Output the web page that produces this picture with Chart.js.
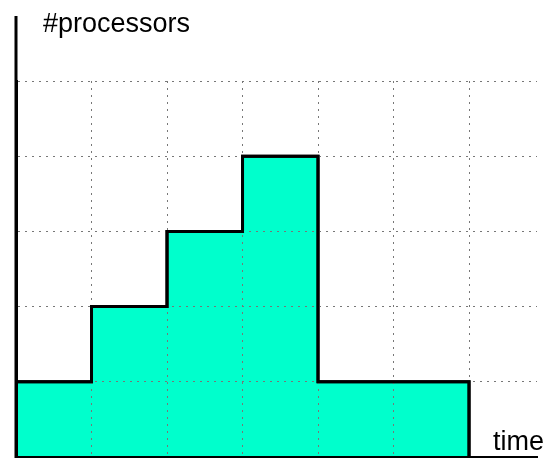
<!DOCTYPE html>
<html>
<head>
<meta charset="utf-8">
<script src="https://cdn.jsdelivr.net/npm/chart.js@4/dist/chart.umd.min.js"></script>
<style>
  html, body { margin: 0; padding: 0; background: #fff; }
  #wrap { width: 547px; height: 459px; position: relative; }
</style>
</head>
<body>
<div id="wrap"><canvas id="procChart"></canvas></div>
<script>
// step profile: processors in use from each time point onwards
const times = [0, 1, 2, 3, 4, 6];
const processors = [1, 2, 3, 4, 1, 0];
const yLabel = '#processors';
const xLabel = 'time';

// step outline back on top of the grid, axis line above the plot, text labels
const labelsPlugin = {
    id: 'labels',
    afterDraw(chart) {
        const ctx = chart.ctx;
        const area = chart.chartArea;
        chart.getDatasetMeta(0).dataset.draw(ctx, area);
        ctx.save();
        ctx.setLineDash([]);
        ctx.strokeStyle = '#000';
        ctx.lineWidth = 3;
        ctx.beginPath();
        ctx.moveTo(area.left, 16);
        ctx.lineTo(area.left, area.bottom + 1);
        ctx.stroke();
        ctx.fillStyle = '#000';
        ctx.font = '27px "Liberation Sans", Arial, sans-serif';
        ctx.textBaseline = 'alphabetic';
        ctx.textAlign = 'left';
        ctx.fillText(yLabel, 43, 32);
        ctx.textAlign = 'right';
        ctx.fillText(xLabel, 544, 450);
        ctx.restore();
    }
};

// keep only whole-number grid lines
const wholeTicks = scale => {
    scale.ticks = scale.ticks.filter(t => Number.isInteger(t.value));
};

new Chart(document.getElementById('procChart'), {
    type: 'line',
    data: {
        datasets: [{
            data: times.map((t, i) => ({ x: t, y: processors[i] })),
            stepped: true,
            borderColor: '#000',
            borderWidth: 3,
            backgroundColor: '#00ffcc',
            fill: 'origin',
            pointRadius: 0
        }]
    },
    options: {
        responsive: true,
        maintainAspectRatio: false,
        animation: false,
        layout: { padding: { left: 16, right: 10, top: 81, bottom: 2 } },
        plugins: { legend: { display: false }, tooltip: { enabled: false } },
        scales: {
            x: {
                type: 'linear',
                min: 0,
                max: 6.9,
                afterBuildTicks: wholeTicks,
                ticks: { display: false, stepSize: 1 },
                grid: { color: '#777', lineWidth: 1, drawTicks: false, z: 1 },
                border: { color: '#000', width: 2, dash: [2, 5], z: 2 }
            },
            y: {
                min: 0,
                max: 5,
                afterBuildTicks: wholeTicks,
                ticks: { display: false, stepSize: 1 },
                grid: { color: '#777', lineWidth: 1, drawTicks: false, z: 1 },
                border: { color: '#000', width: 3, dash: [2, 5], z: 2 }
            }
        }
    },
    plugins: [labelsPlugin]
});
</script>
</body>
</html>
